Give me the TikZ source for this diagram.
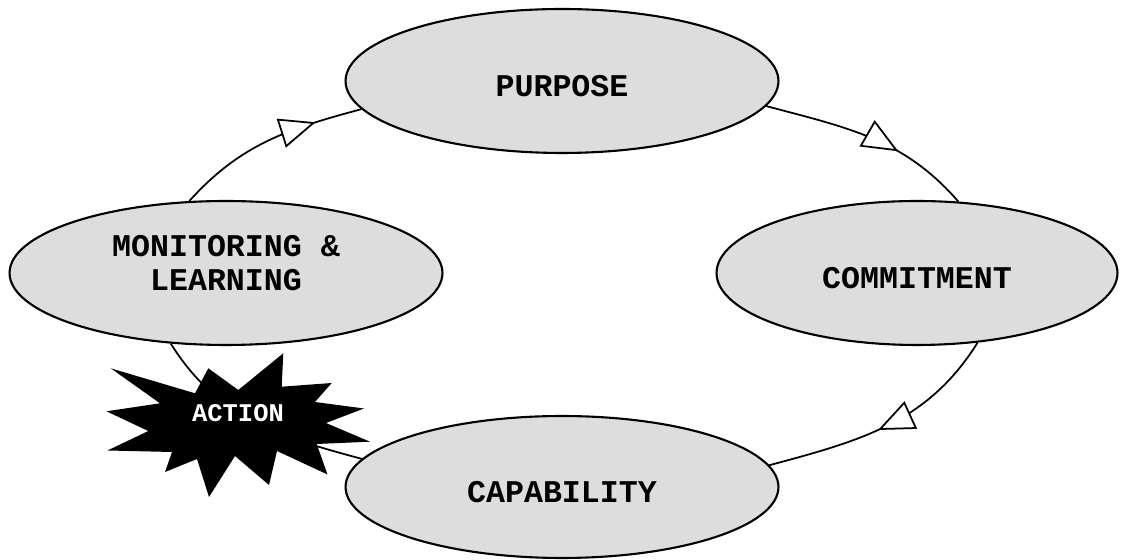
\documentclass[tikz,border=0pt]{standalone}
\usepackage{fontspec}
\newfontfamily\cour{Liberation Mono}
\usetikzlibrary{shapes.geometric,arrows.meta,decorations.markings}
\definecolor{bubble}{RGB}{221,221,221}
\begin{document}
\begin{tikzpicture}[x=0.02cm, y=0.02cm,
  bub/.style={ellipse, draw=black, line width=1.2pt, fill=bubble, inner sep=0pt,
    minimum width=8.66cm, minimum height=2.88cm,
    font=\cour\bfseries\fontsize{18}{19}\selectfont},
  oneline/.style={text height=0.64cm, text depth=0pt},
  loopline/.style={line width=1pt, draw=black},
  tipat/.style={postaction={decorate}, decoration={markings,
    mark=at position #1 with {\arrow{Triangle[length=0.72cm,width=0.6cm,fill=white]}}}},
  burst/.style={font=\cour\bfseries\fontsize{14.5}{16}\selectfont, text=white}
]
\useasboundingbox (0,0) rectangle (1124,560);

\node[bub, oneline] (pur) at (562,479) {PURPOSE};
\node[bub, align=center, text depth=0.4cm] (mon) at (226,287) {MONITORING \&\\LEARNING};
\node[bub, oneline, minimum width=8.02cm] (com) at (917,287) {COMMITMENT};
\node[bub, oneline, minimum height=2.84cm] (cap) at (562,73) {CAPABILITY};

\draw[loopline, tipat=0.76] (mon.117) to[out=48, in=195] (pur.188);
\draw[loopline, tipat=0.64] (pur.353) to[out=-15, in=131] (com.60);
\draw[loopline, tipat=0.54] (com.311) to[out=238, in=15] (cap.6);
\draw[loopline] (cap.172) to[out=165, in=302] (mon.232);

\fill[black] (110.7,191.7) -- (195,166.7) -- (208.3,191.7) -- (238.3,170) -- (283.3,206.7)
  -- (281.7,173.3) -- (331.7,177) -- (315,158) -- (364,151.5) -- (326,137) -- (370,118.3)
  -- (316.7,116) -- (327.5,85.5) -- (277,109) -- (269,75) -- (235,104) -- (209,63)
  -- (197,101) -- (165,88) -- (172,108) -- (107.5,109.5) -- (148.3,129) -- (106.5,148.7)
  -- (160,156.7) -- cycle;
\node[burst] (act) at (238,147) {ACTION};
\end{tikzpicture}
\end{document}
